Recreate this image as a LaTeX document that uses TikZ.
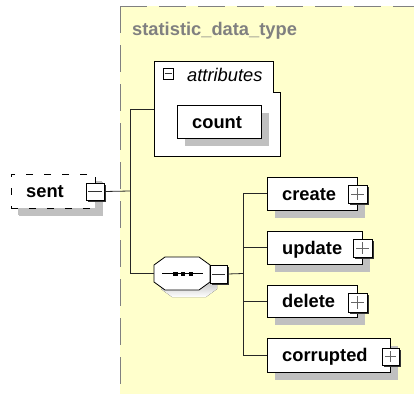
\documentclass[tikz,border=0pt]{standalone}
\usepackage{fontspec}
\setmainfont{Liberation Sans}
\usetikzlibrary{shadows}
\definecolor{bgyellow}{RGB}{255,255,204}
\definecolor{shade}{RGB}{192,192,192}
\definecolor{titlegray}{RGB}{128,128,128}
\begin{document}
\begin{tikzpicture}[x=1pt,y=-1pt,
  elembox/.style={draw=black, line width=0.8pt, fill=white, rectangle, inner sep=0pt,
    drop shadow={shadow xshift=8pt, shadow yshift=-8pt, fill=shade, opacity=1}},
  lbl/.style={anchor=base west, inner sep=0pt, font=\fontsize{18.3}{20}\selectfont\bfseries},
  btn/.style={draw=black, line width=1pt, fill=white, rectangle, inner sep=0pt,
    drop shadow={shadow xshift=1.5pt, shadow yshift=-1.5pt, fill=black!80, opacity=1}},
  plusbtn/.style={btn, path picture={\draw[black!60, line width=0.8pt]
      ([xshift=3pt]path picture bounding box.west) -- ([xshift=-3pt]path picture bounding box.east)
      ([yshift=-3pt]path picture bounding box.north) -- ([yshift=3pt]path picture bounding box.south);}},
  minusbtn/.style={btn, path picture={\draw[black!80, line width=0.8pt]
      ([xshift=2pt]path picture bounding box.west) -- ([xshift=-2pt]path picture bounding box.east);}},
  conn/.style={draw=black!85, line width=0.8pt}
]
\useasboundingbox (0,0) rectangle (414,394);
% complex type background
\fill[bgyellow] (120,6) rectangle (414,394);
\draw[titlegray, line width=0.9pt, dash pattern=on 27pt off 12pt] (120,6) -- (414,6);
\draw[titlegray, line width=0.9pt, dash pattern=on 27pt off 12pt] (120,6) -- (120,394);
\node[lbl, text=titlegray] (title) at (132,35) {statistic\_data\_type};

% attributes group
\draw[black, line width=0.8pt, fill=white] (154,61) -- (273,61) -- (273,92) -- (280,92) -- (280,156) -- (154,156) -- cycle;
\coordinate (attrw) at (154,109);
\node[draw=black, line width=0.9pt, fill=white, rectangle, inner sep=0pt, minimum width=10pt, minimum height=11pt,
  drop shadow={shadow xshift=0.9pt, shadow yshift=-0.9pt, fill=black!80, opacity=1},
  path picture={\draw[black!80, line width=0.7pt]
      ([xshift=1.5pt]path picture bounding box.west) -- ([xshift=-1.5pt]path picture bounding box.east);}]
  (attrbtn) at (168,73.5) {};
\node[anchor=base west, inner sep=0pt, font=\fontsize{18.3}{20}\selectfont\itshape] (attrlbl) at (187,81) {attributes};
\node[elembox, minimum width=84pt, minimum height=33pt] (count) at (219,121.5) {};
\node[lbl] (countlbl) at (192,128) {count};

% root element
\node[elembox, dash pattern=on 7pt off 11pt, minimum width=84pt, minimum height=34pt,
  drop shadow={shadow xshift=7pt, shadow yshift=-7pt, fill=shade, opacity=1}] (sent) at (53,191) {};
\node[lbl] (sentlbl) at (26,197) {sent};
\node[minusbtn, minimum width=18pt, minimum height=17pt] (sentbtn) at (95,191.5) {};

% sequence compositor
\fill[shade] (172,264) -- (206,264) -- (217,272) -- (217,289) -- (206,297) -- (172,297) -- (161,289) -- (161,272) -- cycle;
\node[inner sep=0pt, minimum width=56pt, minimum height=33pt] (seq) at (182,273.5) {};
\draw[black, line width=0.8pt, fill=white] (165,257) -- (199,257) -- (210,265) -- (210,282) -- (199,290) -- (165,290) -- (154,282) -- (154,265) -- cycle;
\draw[black, line width=0.8pt] (162,273.3) -- (203,273.3);
\fill[black] (173.3,271.6) rectangle (177.8,276.1);
\fill[black] (180.8,271.6) rectangle (185.3,276.1);
\fill[black] (188.6,271.6) rectangle (193.1,276.1);
\node[minusbtn, minimum width=17pt, minimum height=18pt] (seqbtn) at (218.5,274) {};

% child elements
\node[elembox, minimum width=90pt, minimum height=33pt] (create) at (312,193.5) {};
\node[lbl] (createlbl) at (282,200) {create};
\node[plusbtn, minimum width=19pt, minimum height=18pt] (createbtn) at (357.5,194) {};

\node[elembox, minimum width=95pt, minimum height=33pt] (update) at (314.5,247.5) {};
\node[lbl] (updatelbl) at (282,254) {update};
\node[plusbtn, minimum width=19pt, minimum height=18pt] (updatebtn) at (362.5,248) {};

\node[elembox, minimum width=90pt, minimum height=32pt] (delete) at (312,301) {};
\node[lbl] (deletelbl) at (282,307.5) {delete};
\node[plusbtn, minimum width=19pt, minimum height=19pt] (deletebtn) at (357.5,302.5) {};

\node[elembox, minimum width=123pt, minimum height=34pt] (corrupted) at (328.5,355) {};
\node[lbl] (corruptedlbl) at (282,361.5) {corrupted};
\node[plusbtn, minimum width=17pt, minimum height=17pt] (corruptedbtn) at (390.5,356.5) {};

% connectors
\coordinate (trunk) at (130,191);
\coordinate (choice) at (243,273.5);
\draw[conn] (sentbtn.east) -- (trunk);
\draw[conn] (attrw) -| (trunk);
\draw[conn] (seq.west) -| (trunk);
\draw[conn] (seqbtn.east) -- (choice);
\draw[conn] (create.west) -| (choice);
\draw[conn] (update.west) -| (choice);
\draw[conn] (delete.west) -| (choice);
\draw[conn] (corrupted.west) -| (choice);
\end{tikzpicture}
\end{document}
